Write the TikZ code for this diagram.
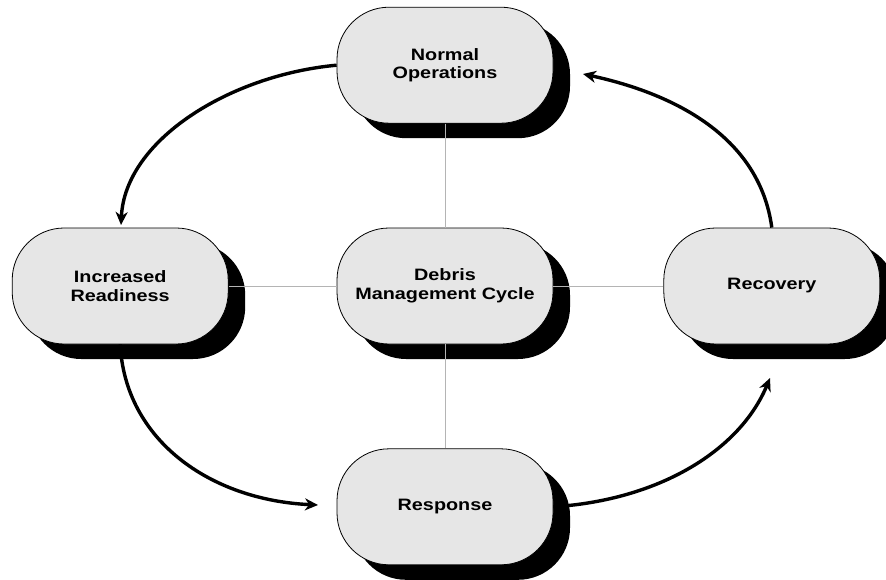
\documentclass[tikz,border=0pt]{standalone}
\usepackage{fontspec}
\usepackage{tikz}
\usetikzlibrary{positioning,arrows.meta,shadows}
\newfontfamily\boxfont[FakeStretch=1.2]{Liberation Sans}
\definecolor{phasefill}{HTML}{E6E6E6}
\definecolor{linkgray}{HTML}{B4B4B4}

\tikzset{
  phase/.style={draw=black, line width=0.8pt, fill=phasefill,
    rounded corners=52pt, minimum width=216pt, minimum height=116pt,
    align=center, font=\boxfont\bfseries\fontsize{16.5}{18.5}\selectfont,
    drop shadow={shadow xshift=17pt, shadow yshift=-15pt, fill=black, opacity=1}},
  link/.style={linkgray, line width=0.8pt},
  cycle arrow/.style={line width=3.4pt, -{Stealth[length=13pt,width=12pt,inset=4pt]}}
}

\begin{document}
\begin{tikzpicture}[x=1pt, y=-1pt]
    \useasboundingbox (0,0) rectangle (886,580);
    \node[phase] (debris) at (445,286) {Debris\\Management Cycle};
    \node[phase, above=104pt of debris] (normal) {Normal\\Operations};
    \node[phase, below=104pt of debris] (response) {Response};
    \node[phase, left=108pt of debris] (ready) {Increased\\Readiness};
    \node[phase, right=110pt of debris] (recovery) {Recovery};
    % thin links to the centre
    \draw[link] (normal.south) -- (debris.north);
    \draw[link] (debris.south) -- (response.north);
    \draw[link] (ready.east) -- (debris.west);
    \draw[link] (debris.east) -- (recovery.west);
    % cycle arrows
    \coordinate (tipready) at (121,225);
    \coordinate (tipresponse) at (318,505);
    \coordinate (tiprecovery) at (770,378);
    \coordinate (tipnormal) at (583,74);
    \draw[cycle arrow] (normal.west) .. controls (230,75) and (125,140) .. (tipready);
    \draw[cycle arrow] (ready.south) .. controls (125,440) and (210,500) .. (tipresponse);
    \draw[cycle arrow] (response.east) .. controls (660,500) and (740,450) .. (tiprecovery);
    \draw[cycle arrow] (recovery.north) .. controls (760,140) and (680,95) .. (tipnormal);
  \end{tikzpicture}
\end{document}
